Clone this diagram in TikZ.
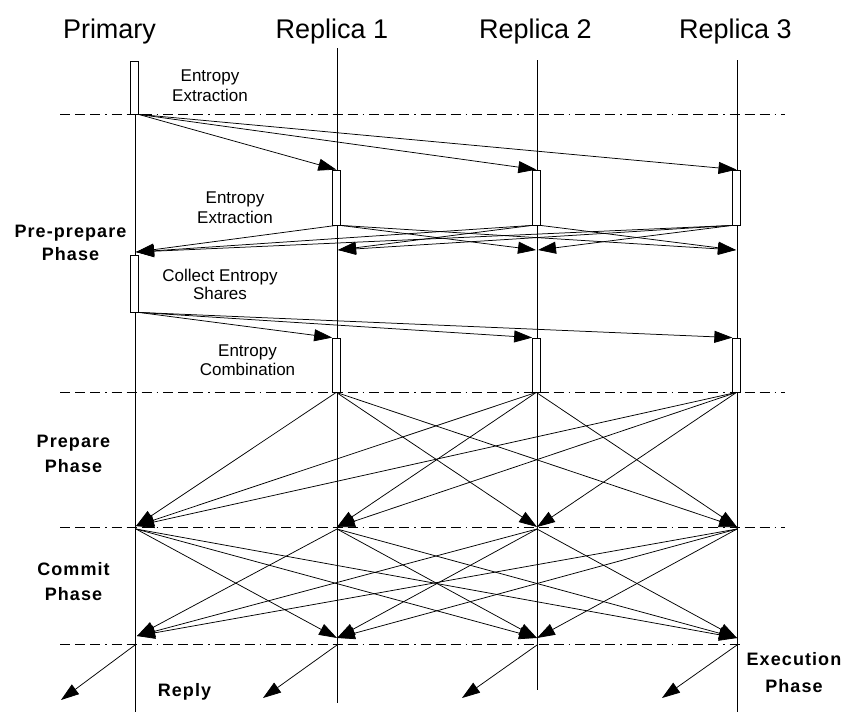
\documentclass[tikz,border=0pt]{standalone}
\usepackage{fontspec}
\setmainfont{Liberation Sans}
\newfontfamily\phasefont[LetterSpace=6]{Liberation Sans}
\usetikzlibrary{arrows.meta}
\tikzset{
  life/.style={line width=0.8pt},
  actbox/.style={draw, fill=white, line width=0.8pt, minimum width=7.5pt, inner sep=0pt},
  msg/.style={line width=0.75pt, -{Triangle[length=18pt,width=12pt]}},
  phaseline/.style={line width=0.8pt, dash pattern=on 10pt off 5pt on 10pt off 5pt on 10pt off 5pt on 1.5pt off 5pt},
  title/.style={font=\fontsize{27}{32}\selectfont, anchor=base, inner sep=0pt},
  small/.style={font=\fontsize{17}{20}\selectfont, align=center, anchor=north, inner sep=0pt},
  phase/.style={font=\phasefont\bfseries\fontsize{18}{24}\selectfont, align=center, anchor=north, inner sep=0pt},
}
\begin{document}
\begin{tikzpicture}[x=1pt,y=-1pt]
\useasboundingbox (0,0) rectangle (847,712);
% phase separator lines
\coordinate (h1s) at (60,114);  \coordinate (h1e) at (785,114);
\coordinate (h2s) at (60,392);  \coordinate (h2e) at (785,392);
\coordinate (h3s) at (60,527);  \coordinate (h3e) at (785,527);
\coordinate (h4s) at (60,644);  \coordinate (h4e) at (742,644);
\draw[phaseline] (h1s) -- (h1e);
\draw[phaseline] (h2s) -- (h2e);
\draw[phaseline] (h3s) -- (h3e);
\draw[phaseline] (h4s) -- (h4e);
% lifelines
\coordinate (P0) at (135,114); \coordinate (Pend) at (135,712);
\coordinate (A0) at (337,48);  \coordinate (Aend) at (337,703);
\coordinate (B0) at (537,60);  \coordinate (Bend) at (537,690);
\coordinate (C0) at (737,60);  \coordinate (Cend) at (737,712);
\draw[life] (P0) -- (Pend);
\draw[life] (A0) -- (Aend);
\draw[life] (B0) -- (Bend);
\draw[life] (C0) -- (Cend);
% activation boxes
\node[actbox, minimum height=53pt] (bP1) at (134.5,87.5) {};
\node[actbox, minimum height=55pt] (bR1a) at (336.3,197.5) {};
\node[actbox, minimum height=55pt] (bR2a) at (536.3,197.5) {};
\node[actbox, minimum height=55pt] (bR3a) at (736.5,197.5) {};
\node[actbox, minimum height=57pt] (bP2) at (134.5,283.5) {};
\node[actbox, minimum height=54pt] (bR1b) at (336.3,365) {};
\node[actbox, minimum height=54pt] (bR2b) at (536.3,365) {};
\node[actbox, minimum height=54pt] (bR3b) at (736.5,365) {};
% titles
\node[title] (tP) at (109.5,38) {Primary};
\node[title] (tA) at (332,38) {Replica 1};
\node[title] (tB) at (535.5,38) {Replica 2};
\node[title] (tC) at (735.5,38) {Replica 3};
% phase 1
\draw[msg] (bP1.south east) -- (bR1a.north);
\draw[msg] (bP1.south east) -- (bR2a.north);
\draw[msg] (bP1.south east) -- (bR3a.north);
% phase 2
\coordinate (tPa) at (136,252);
\coordinate (a2R) at (338,250);
\coordinate (b2L) at (536,250); \coordinate (b2R) at (538,250);
\coordinate (c2L) at (736,250);
\draw[msg] (bR1a.south) -- (tPa);
\draw[msg] (bR1a.south east) -- (b2L);
\draw[msg] (bR1a.south east) -- (c2L);
\draw[msg] (bR2a.south west) -- (tPa);
\draw[msg] (bR2a.south west) -- (a2R);
\draw[msg] (bR2a.south east) -- (c2L);
\draw[msg] (bR3a.south west) -- (tPa);
\draw[msg] (bR3a.south west) -- (a2R);
\draw[msg] (bR3a.south west) -- (b2R);
% phase 3
\draw[msg] (bP2.south east) -- (bR1b.north west);
\draw[msg] (bP2.south east) -- (bR2b.north west);
\draw[msg] (bP2.south east) -- (bR3b.north west);
% phase 4 (prepare)
\coordinate (tP4) at (136,526);
\coordinate (a4) at (337,527);
\coordinate (b4) at (537,527);
\coordinate (c4) at (737,527);
\draw[msg] (bR1b.south) -- (tP4);
\draw[msg] (bR1b.south) -- (b4);
\draw[msg] (bR1b.south) -- (c4);
\draw[msg] (bR2b.south) -- (tP4);
\draw[msg] (bR2b.south) -- (a4);
\draw[msg] (bR2b.south) -- (c4);
\draw[msg] (bR3b.south) -- (tP4);
\draw[msg] (bR3b.south) -- (a4);
\draw[msg] (bR3b.south) -- (b4);
% phase 5 (commit)
\coordinate (sP5) at (136,529); \coordinate (sA5) at (337,529);
\coordinate (sB5) at (537,529); \coordinate (sC5) at (737,529);
\coordinate (tP5) at (137,636); \coordinate (tA5) at (337,638);
\coordinate (tB5) at (537,638); \coordinate (tC5) at (737,638);
\draw[msg] (sP5) -- (tA5);
\draw[msg] (sP5) -- (tB5);
\draw[msg] (sP5) -- (tC5);
\draw[msg] (sA5) -- (tP5);
\draw[msg] (sA5) -- (tB5);
\draw[msg] (sA5) -- (tC5);
\draw[msg] (sB5) -- (tP5);
\draw[msg] (sB5) -- (tA5);
\draw[msg] (sB5) -- (tC5);
\draw[msg] (sC5) -- (tP5);
\draw[msg] (sC5) -- (tA5);
\draw[msg] (sC5) -- (tB5);
% phase 6 (reply)
\coordinate (rP) at (135,645); \coordinate (eP) at (61,700);
\coordinate (rA) at (337,645); \coordinate (eA) at (263,698);
\coordinate (rB) at (537,645); \coordinate (eB) at (462,698);
\coordinate (rC) at (737,645); \coordinate (eC) at (662,698);
\draw[msg] (rP) -- (eP);
\draw[msg] (rA) -- (eA);
\draw[msg] (rB) -- (eB);
\draw[msg] (rC) -- (eC);
% small labels
\node[small] (l1) at (210,69.5) {Entropy\\Extraction};
\node[small] (l2) at (235,192) {Entropy\\Extraction};
\node[small, font=\fontsize{17}{18}\selectfont] (l3) at (220,268.5) {Collect Entropy\\Shares};
\node[small, font=\fontsize{17}{19}\selectfont] (l4) at (247.5,344.5) {Entropy\\Combination};
% phase labels
\node[phase, font=\phasefont\bfseries\fontsize{18}{23}\selectfont] (ph1) at (70.5,224.5) {Pre-prepare\\Phase};
\node[phase, font=\phasefont\bfseries\fontsize{18}{25}\selectfont] (ph2) at (73.5,434.5) {Prepare\\Phase};
\node[phase, font=\phasefont\bfseries\fontsize{18}{25}\selectfont] (ph3) at (73.5,562) {Commit\\Phase};
\node[phase] (ph4) at (184.5,683.5) {Reply};
\node[phase, font=\phasefont\bfseries\fontsize{18}{27}\selectfont] (ph5) at (794,652) {Execution\\Phase};
\end{tikzpicture}
\end{document}
